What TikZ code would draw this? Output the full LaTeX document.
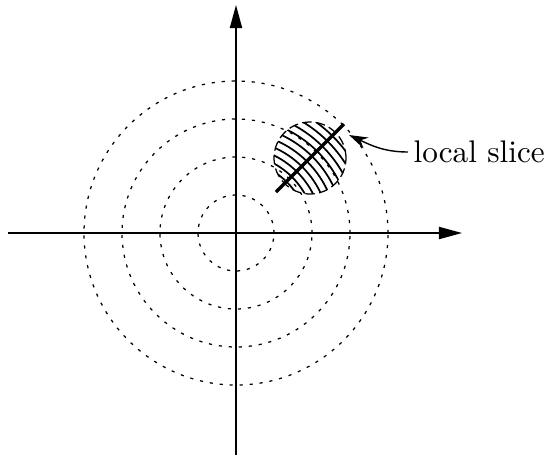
\documentclass[tikz,border=0pt]{standalone}
\usetikzlibrary{arrows.meta}
\begin{document}
\begin{tikzpicture}[x=0.32pt,y=0.32pt,
  axis/.style={line width=0.5pt,-{Triangle[length=7.4pt,width=3.9pt]}},
  ring/.style={line width=0.4pt,dash pattern=on 1pt off 2.2pt},
  sliceedge/.style={line width=0.4pt,dash pattern=on 3pt off 1.4pt},
  hatch/.style={line width=0.55pt},
  cut/.style={line width=1.1pt},
  callout/.style={line width=0.45pt,-{Stealth[length=6pt,width=3.8pt]}}]
\useasboundingbox (-236,-224) rectangle (311,233);
\coordinate (o) at (0,0);
\coordinate (xs) at (-228,0);
\coordinate (xe) at (226,0);
\coordinate (ys) at (0,-222);
\coordinate (ye) at (0,228);
\draw[axis] (xs) -- (xe);
\draw[axis] (ys) -- (ye);
\foreach \r in {38,76,114,152} \draw[ring] (o) circle (\r);
\coordinate (h) at (74,75);
\begin{scope}
  \clip (h) circle (36);
  \foreach \r in {72,79.2,...,140} \draw[hatch] (o) circle (\r);
\end{scope}
\draw[sliceedge] (h) circle (36);
\coordinate (c1) at (40,41);
\coordinate (c2) at (108,109);
\draw[cut] (c1) -- (c2);
\node[anchor=base west,inner sep=0pt] (lab) at (177,71) {local slice};
\coordinate (tip) at (113,98);
\coordinate (st) at (172,81);
\draw[callout] (st) to[out=180,in=-25] (tip);
\end{tikzpicture}
\end{document}
